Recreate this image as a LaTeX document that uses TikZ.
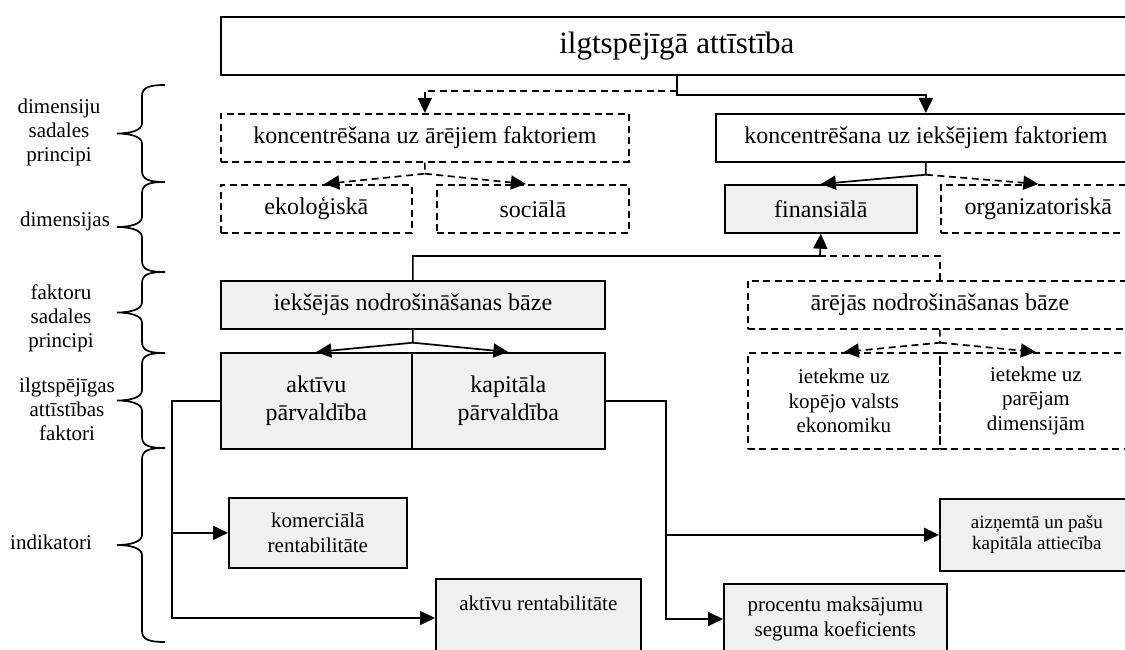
\documentclass[tikz,border=0pt]{standalone}
\usepackage{fontspec}
\setmainfont{Liberation Serif}
\usetikzlibrary{arrows.meta,calc}
\newcommand\lvbrace[2]{%
  \pgfmathsetmacro\brmid{(#1+#2)/2}%
  \draw[brc] (165,#1) .. controls (150,#1) and (142,{#1+2}) .. (142,{#1+11})
    -- (142,{\brmid-10}) .. controls (142,{\brmid-3}) and (130,\brmid) .. (117,\brmid)
    .. controls (130,\brmid) and (142,{\brmid+3}) .. (142,{\brmid+10})
    -- (142,{#2-11}) .. controls (142,{#2-2}) and (150,#2) .. (165,#2);}
\tikzset{
  bx/.style={draw, line width=1.7pt, inner sep=0pt, anchor=north west, align=center},
  gbox/.style={bx, fill=black!6},
  dbox/.style={bx, dash pattern=on 7pt off 4.5pt},
  ln/.style={line width=1.7pt},
  arr/.style={ln, -{Triangle[length=15pt,width=14pt]}},
  darr/.style={arr, dash pattern=on 7pt off 4.5pt},
  dln/.style={ln, dash pattern=on 7pt off 4.5pt},
  brc/.style={line width=1.7pt},
  fmain/.style={font=\fontsize{24}{28}\selectfont},
  find/.style={font=\fontsize{21}{25}\selectfont},
  flab/.style={font=\fontsize{21}{24}\selectfont, align=center},
}
\begin{document}
\begin{tikzpicture}[x=1pt,y=-1pt]
\useasboundingbox (0,0) rectangle (1125,650);
\fill[white] (0,0) rectangle (1125,650);
\clip (0,0) rectangle (1125,650);

% left labels and braces
\node[flab] (l1) at (59,132) {dimensiju\\sadales\\principi};
\node[flab] (l2) at (65,221) {dimensijas};
\node[flab] (l3) at (61,318) {faktoru\\sadales\\principi};
\node[flab] (l4) at (67,409) {ilgtspējīgas\\attīstības\\faktori};
\node[flab] (l5) at (51,542) {indikatori};
\lvbrace{85}{182}
\lvbrace{182}{272}
\lvbrace{272}{353}
\lvbrace{353}{448}
\lvbrace{448}{642}

% boxes
\node[bx, minimum width=912pt, minimum height=58pt, font=\fontsize{31}{36}\selectfont] (title) at (220,16) {ilgtspējīgā attīstība};
\node[dbox, fmain, minimum width=408pt, minimum height=48pt] (are) at (220,113) {koncentrēšana uz ārējiem faktoriem};
\node[bx, fmain, minimum width=420pt, minimum height=48pt] (iek) at (715,113) {koncentrēšana uz iekšējiem faktoriem};
\node[dbox, fmain, minimum width=191pt, minimum height=48pt] (eko) at (220,184) {ekoloģiskā};
\node[dbox, fmain, minimum width=192pt, minimum height=48pt] (soc) at (436,184) {sociālā};
\node[gbox, fmain, minimum width=192pt, minimum height=48pt] (fin) at (724,184) {finansiālā};
\node[dbox, fmain, minimum width=195pt, minimum height=48pt] (org) at (940,184) {organizatoriskā};
\node[gbox, fmain, minimum width=384pt, minimum height=48pt] (ib) at (220,280) {iekšējās nodrošināšanas bāze};
\node[dbox, fmain, minimum width=384pt, minimum height=48pt] (ab) at (747,280) {ārējās nodrošināšanas bāze};
\node[gbox, fmain, minimum width=191pt, minimum height=96pt] (akt) at (220,352) {aktīvu\\pārvaldība};
\node[gbox, fmain, minimum width=193pt, minimum height=96pt] (kap) at (411,352) {kapitāla\\pārvaldība};
\node[dbox, font=\fontsize{21}{24.5}\selectfont, minimum width=192pt, minimum height=96pt] (iet1) at (747,352) {ietekme uz\\kopējo valsts\\ekonomiku};
\node[dbox, font=\fontsize{21}{24.5}\selectfont, minimum width=192pt, minimum height=96pt] (iet2) at (939,352) {ietekme uz\\parējam\\dimensijām};
\node[gbox, find, minimum width=178pt, minimum height=70pt] (kom) at (228,497) {komerciālā\\rentabilitāte};
\node[gbox, font=\fontsize{19}{21}\selectfont, minimum width=194pt, minimum height=72pt] (aiz) at (939,498) {aizņemtā un pašu\\kapitāla attiecība};
\node[gbox, minimum width=205pt, minimum height=100pt] (ar) at (435,578) {};
\node[find] (artxt) at ($(ar.north)+(0,25)$) {aktīvu rentabilitāte};
\node[gbox, minimum width=223pt, minimum height=100pt] (pm) at (723,583) {};
\node[find, align=center] (pmtxt) at ($(pm.north)+(0,36)$) {procentu maksājumu\\seguma koeficients};

% connectors
\draw[arr] (title.south) -- ++(0,19) -| (iek.north);
\draw[darr] ($(title.south)+(0,15)$) -| (are.north);
\draw[darr] (are.south) -- ++(0,11) -- ($(eko.north)+(8,0)$);
\draw[darr] (are.south) ++(0,11) -- ($(soc.north)+(-7,0)$);
\draw[arr] (iek.south) -- ++(0,12) -- (fin.north);
\draw[darr] (iek.south) ++(0,12) -- (org.north);
\coordinate (j1) at (820,256);
\draw[dln] (ab.north) |- (j1);
\draw[arr] (ib.north) |- (j1) -- (fin.south);
\draw[arr] (ib.south) -- ++(0,13) -- (akt.north);
\draw[arr] (ib.south) ++(0,13) -- (kap.north);
\draw[darr] (ab.south) -- ++(0,13) -- (iet1.north);
\draw[darr] (ab.south) ++(0,13) -- (iet2.north);
\coordinate (arin) at ($(ar.north west)+(0,40)$);
\draw[arr] (akt.west) -- ++(-48,0) |- (arin);
\draw[arr] (akt.west) ++(-48,0) |- (kom.west);
\coordinate (pmin) at ($(pm.north west)+(0,36)$);
\draw[arr] (kap.east) -- ++(60,0) |- (pmin);
\draw[arr] (kap.east) ++(60,0) |- (aiz.west);
\end{tikzpicture}
\end{document}
